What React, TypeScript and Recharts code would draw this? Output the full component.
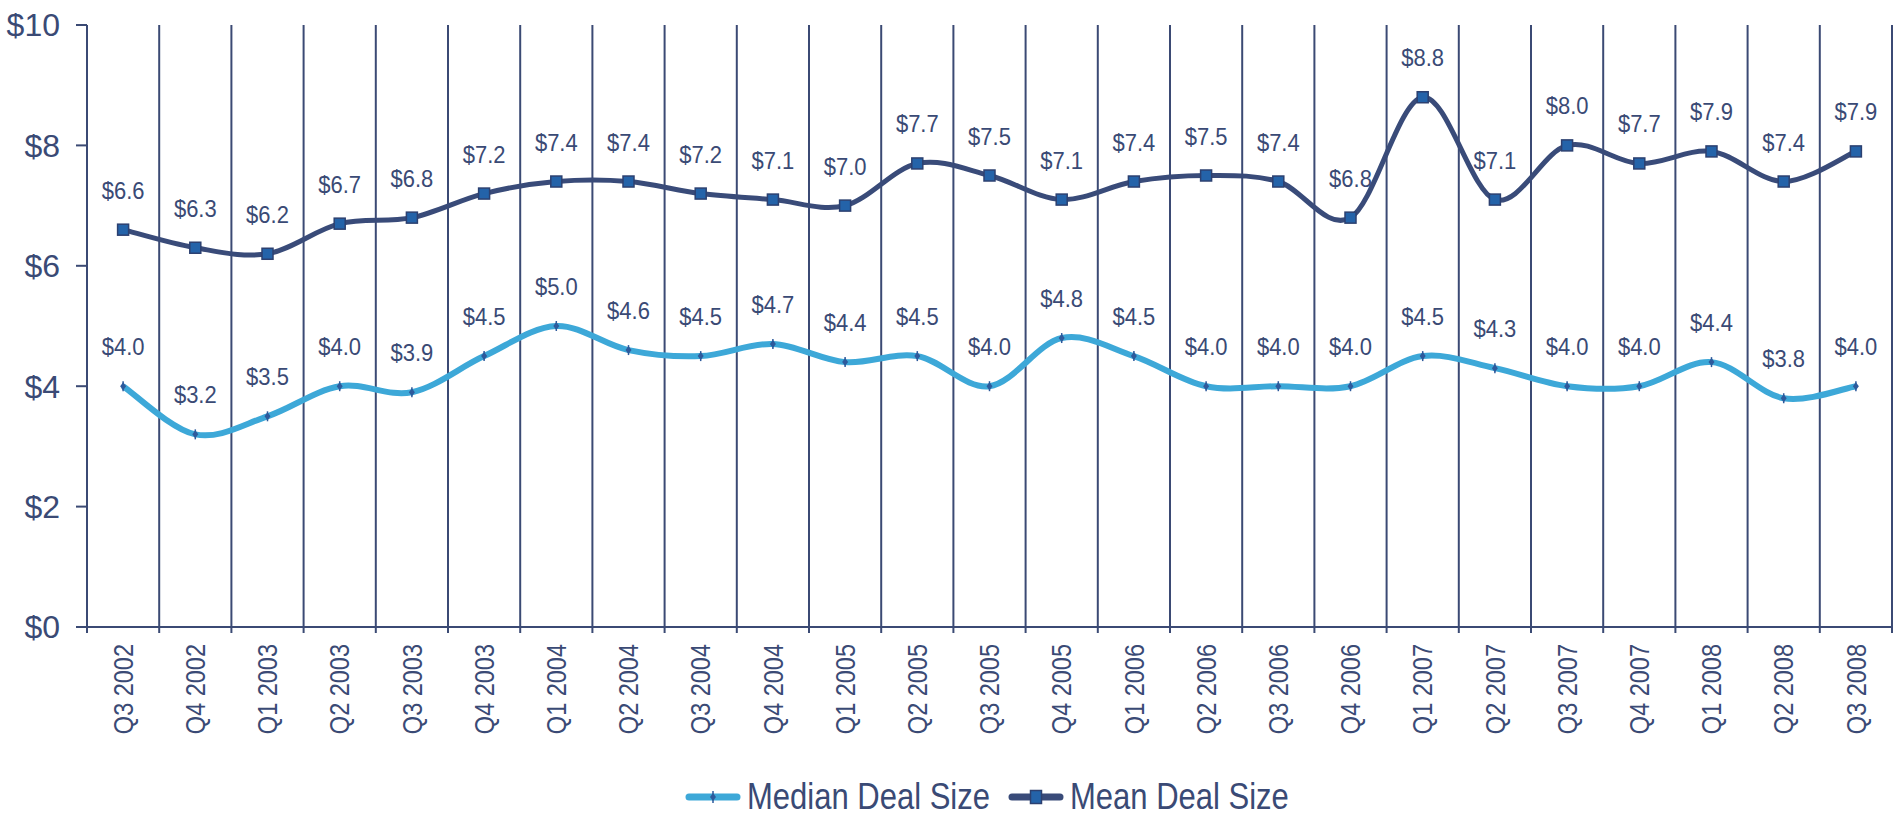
import React from 'react';
import {
  ComposedChart,
  Line,
  XAxis,
  YAxis,
  CartesianGrid,
  Legend,
  LabelList,
} from 'recharts';

const quarters = [
  'Q3 2002', 'Q4 2002', 'Q1 2003', 'Q2 2003', 'Q3 2003', 'Q4 2003',
  'Q1 2004', 'Q2 2004', 'Q3 2004', 'Q4 2004', 'Q1 2005', 'Q2 2005',
  'Q3 2005', 'Q4 2005', 'Q1 2006', 'Q2 2006', 'Q3 2006', 'Q4 2006',
  'Q1 2007', 'Q2 2007', 'Q3 2007', 'Q4 2007', 'Q1 2008', 'Q2 2008', 'Q3 2008',
];

const medianDealSize = [
  4.0, 3.2, 3.5, 4.0, 3.9, 4.5, 5.0, 4.6, 4.5, 4.7, 4.4, 4.5, 4.0,
  4.8, 4.5, 4.0, 4.0, 4.0, 4.5, 4.3, 4.0, 4.0, 4.4, 3.8, 4.0,
];

const meanDealSize = [
  6.6, 6.3, 6.2, 6.7, 6.8, 7.2, 7.4, 7.4, 7.2, 7.1, 7.0, 7.7, 7.5,
  7.1, 7.4, 7.5, 7.4, 6.8, 8.8, 7.1, 8.0, 7.7, 7.9, 7.4, 7.9,
];

const yTicks = [0, 2, 4, 6, 8, 10];

const seriesNames = { median: 'Median Deal Size', mean: 'Mean Deal Size' };

const FONT = "'Liberation Sans', Arial, sans-serif";
const TEXT = '#3A4A75';
const AXIS = '#3B4A74';
const MEDIAN_COLOR = '#3DA8D8';
const MEAN_COLOR = '#394B79';
const MEAN_MARKER = '#2463A9';
const MEDIAN_MARKER = '#2D5A9C';

const data = quarters.map((q, i) => ({
  pos: i + 0.5,
  quarter: q,
  median: medianDealSize[i],
  mean: meanDealSize[i],
}));

const boundaryValues = quarters.map((_, i) => i).concat([quarters.length]);
const xTicks: number[] = [];
for (let i = 0; i < quarters.length; i++) {
  xTicks.push(i, i + 0.5);
}
xTicks.push(quarters.length);

// Excel-like smoothed line (uniform Catmull-Rom as cubic Beziers)
function excelSmooth(context: any) {
  let xs: number[] = [];
  let ys: number[] = [];
  return {
    areaStart() {},
    areaEnd() {},
    lineStart() {
      xs = [];
      ys = [];
    },
    point(x: number, y: number) {
      xs.push(+x);
      ys.push(+y);
    },
    lineEnd() {
      const n = xs.length;
      if (!n) return;
      context.moveTo(xs[0], ys[0]);
      for (let i = 0; i < n - 1; i++) {
        const a = Math.max(i - 1, 0);
        const d = Math.min(i + 2, n - 1);
        context.bezierCurveTo(
          xs[i] + (xs[i + 1] - xs[a]) / 6,
          ys[i] + (ys[i + 1] - ys[a]) / 6,
          xs[i + 1] - (xs[d] - xs[i]) / 6,
          ys[i + 1] - (ys[d] - ys[i]) / 6,
          xs[i + 1],
          ys[i + 1]
        );
      }
    },
  };
}

const XTick = (props: any) => {
  const { x, y, payload } = props;
  const v = payload.value;
  if (Number.isInteger(v)) {
    return <line x1={x} y1={y - 6} x2={x} y2={y} stroke={AXIS} strokeWidth={2} />;
  }
  const label = quarters[Math.floor(v)];
  return (
    <g transform={`translate(${x},${y + 11}) rotate(-90) scale(1,1.15)`}>
      <text
        x={0}
        y={0}
        textAnchor="end"
        dy="0.36em"
        fill={TEXT}
        fontSize={23.5}
        fontFamily={FONT}
      >
        {label}
      </text>
    </g>
  );
};

const DataLabel = (props: any) => {
  const vb = props.viewBox || {};
  const bx = vb.x != null ? vb.x : props.x;
  const by = vb.y != null ? vb.y : props.y;
  const bw = vb.width != null ? vb.width : props.width || 0;
  if (bx == null || by == null) return null;
  const cx = bx + bw / 2;
  return (
    <g transform={`translate(${cx},${by - 31}) scale(1,1.12)`}>
      <text x={0} y={0} textAnchor="middle" fill={TEXT} fontSize={22} fontFamily={FONT}>
        {`$${Number(props.value).toFixed(1)}`}
      </text>
    </g>
  );
};

const MedianDot = (props: any) => {
  const { cx, cy } = props;
  if (cx == null || cy == null) return null;
  return (
    <g>
      <line x1={cx} y1={cy - 5} x2={cx} y2={cy + 5} stroke={MEDIAN_MARKER} strokeWidth={1.5} />
      <polygon
        points={`${cx},${cy - 4} ${cx + 3},${cy} ${cx},${cy + 4} ${cx - 3},${cy}`}
        fill={MEDIAN_MARKER}
      />
    </g>
  );
};

const MeanDot = (props: any) => {
  const { cx, cy } = props;
  if (cx == null || cy == null) return null;
  return (
    <rect
      x={cx - 5.5}
      y={cy - 5.5}
      width={11}
      height={11}
      fill={MEAN_MARKER}
      stroke="#2C4070"
      strokeWidth={1.5}
    />
  );
};

const legendText: React.CSSProperties = {
  display: 'inline-block',
  transform: 'scaleY(1.2)',
  transformOrigin: '50% 60%',
};

const LegendContent = () => (
  <div
    style={{
      height: 60,
      boxSizing: 'border-box',
      paddingTop: 24,
      paddingLeft: 685,
      display: 'flex',
      alignItems: 'center',
      fontFamily: FONT,
      fontSize: 31,
      lineHeight: '31px',
      color: TEXT,
      whiteSpace: 'nowrap',
    }}
  >
    <svg width={56} height={20} style={{ marginRight: 6 }}>
      <line x1={4} y1={10} x2={52} y2={10} stroke={MEDIAN_COLOR} strokeWidth={7} strokeLinecap="round" />
      <line x1={28} y1={4} x2={28} y2={16} stroke={MEDIAN_MARKER} strokeWidth={1.5} />
      <polygon points="28,6 31,10 28,14 25,10" fill={MEDIAN_MARKER} />
    </svg>
    <span style={{ ...legendText, marginRight: 18 }}>{seriesNames.median}</span>
    <svg width={56} height={20} style={{ marginRight: 6 }}>
      <line x1={4} y1={10} x2={52} y2={10} stroke={MEAN_COLOR} strokeWidth={7} strokeLinecap="round" />
      <rect x={22.5} y={3.5} width={11} height={13} fill={MEAN_MARKER} stroke="#2C4070" strokeWidth={1.5} />
    </svg>
    <span style={legendText}>{seriesNames.mean}</span>
  </div>
);

export default function App() {
  return (
    <div style={{ position: 'absolute', left: 0, top: 0, width: 1893, height: 815, background: '#fff' }}>
      <ComposedChart
        width={1893}
        height={815}
        data={data}
        margin={{ top: 25, right: 1, bottom: 0, left: 0 }}
      >
        <CartesianGrid
          vertical
          horizontal={false}
          verticalValues={boundaryValues}
          stroke={AXIS}
          strokeWidth={2}
        />
        <XAxis
          dataKey="pos"
          type="number"
          domain={[0, quarters.length]}
          ticks={xTicks}
          interval={0}
          tick={<XTick />}
          tickLine={false}
          tickSize={6}
          tickMargin={0}
          height={128}
          axisLine={{ stroke: AXIS, strokeWidth: 2 }}
        />
        <YAxis
          type="number"
          domain={[0, 10]}
          ticks={yTicks}
          interval={0}
          width={87}
          tickSize={11}
          tickMargin={16}
          tickFormatter={(v: number) => `$${v}`}
          tick={{ fill: TEXT, fontSize: 32, fontFamily: FONT }}
          tickLine={{ stroke: AXIS, strokeWidth: 2 }}
          axisLine={{ stroke: AXIS, strokeWidth: 2 }}
        />
        <Legend verticalAlign="bottom" align="left" content={<LegendContent />} />
        <Line
          name={seriesNames.median}
          dataKey="median"
          type={excelSmooth as any}
          stroke={MEDIAN_COLOR}
          strokeWidth={6}
          strokeLinejoin="round"
          dot={<MedianDot />}
          activeDot={false}
          isAnimationActive={false}
        >
          <LabelList dataKey="median" position="top" content={<DataLabel />} />
        </Line>
        <Line
          name={seriesNames.mean}
          dataKey="mean"
          type={excelSmooth as any}
          stroke={MEAN_COLOR}
          strokeWidth={5}
          strokeLinejoin="round"
          dot={<MeanDot />}
          activeDot={false}
          isAnimationActive={false}
        >
          <LabelList dataKey="mean" position="top" content={<DataLabel />} />
        </Line>
      </ComposedChart>
    </div>
  );
}
